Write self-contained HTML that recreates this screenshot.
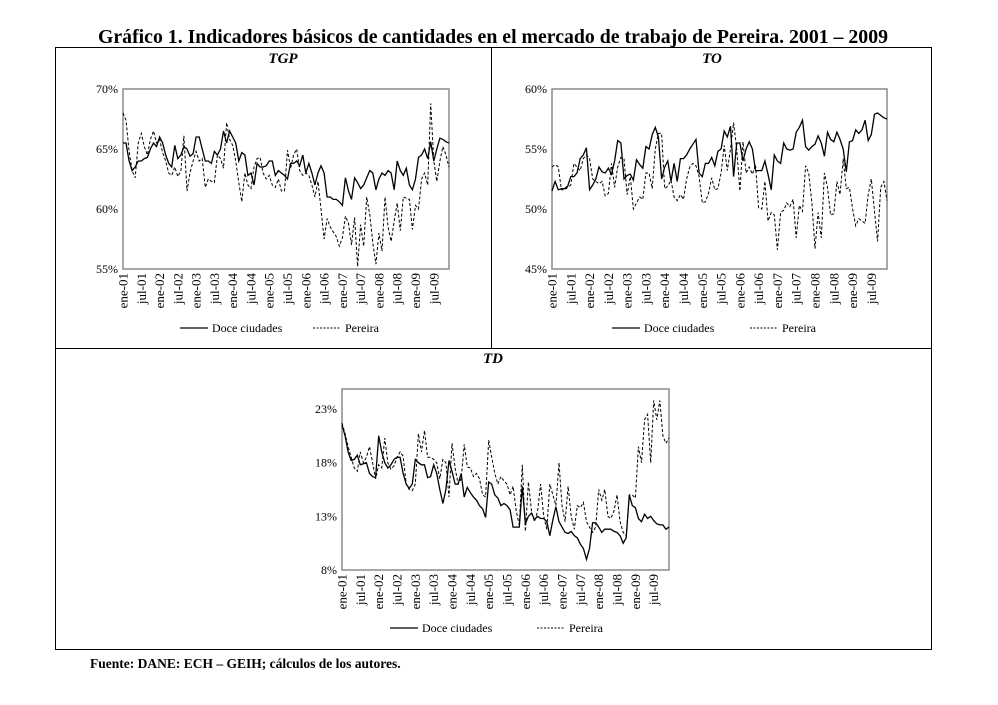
<!DOCTYPE html>
<html><head><meta charset="utf-8"><style>
body{margin:0;background:#fff;width:998px;height:700px;overflow:hidden;font-family:"Liberation Serif",serif}
svg text{font-family:"Liberation Serif",serif}
</style></head><body>
<svg id="fig" width="998" height="700">
<text x="493" y="43" text-anchor="middle" font-size="19.5" font-weight="bold" textLength="790" lengthAdjust="spacingAndGlyphs">Gráfico 1. Indicadores básicos de cantidades en el mercado de trabajo de Pereira. 2001 – 2009</text>
<rect x="55.5" y="47.5" width="876" height="602" fill="none" stroke="#000" stroke-width="1"/>
<line x1="491.5" y1="47" x2="491.5" y2="348" stroke="#000"/>
<line x1="55" y1="348.5" x2="932" y2="348.5" stroke="#000"/>
<text x="283" y="63" text-anchor="middle" font-size="15" font-weight="bold" font-style="italic">TGP</text>
<text x="712" y="63" text-anchor="middle" font-size="15" font-weight="bold" font-style="italic">TO</text>
<text x="493" y="363" text-anchor="middle" font-size="15" font-weight="bold" font-style="italic">TD</text>
<text x="90" y="668" font-size="13.5" font-weight="bold">Fuente: DANE: ECH – GEIH; cálculos de los autores.</text>
</svg>
<script>
const tickLabels=["ene-01","jul-01","ene-02","jul-02","ene-03","jul-03","ene-04","jul-04","ene-05","jul-05","ene-06","jul-06","ene-07","jul-07","ene-08","jul-08","ene-09","jul-09"];
const tgpDoce=[65.5,65.5,64,63.2,63.5,64,64,64.2,64.3,65,65.5,65.2,
66,65.5,64.5,63.8,63.5,65.3,64.2,64.5,65.2,65,64.4,64.6,
66,66,65,64,64,63.8,64.8,64.5,65,66.5,65.5,66.5,
66,65.5,64,64.7,64.5,62.8,63,62,63.8,63.5,63.5,63.6,
64,64,62.8,63.2,63,62.8,62.5,63.8,63.8,64,63.6,64.5,
63,63.8,63,62,63,63.6,63,61,61,60.8,60.8,60.6,
60.3,62.6,61.5,60.8,62.6,62.2,61.7,62,62.6,63.2,63,61.6,
62.5,63,62.8,63.2,63,61.6,64,63.2,62.8,63.4,62,61.6,
62.5,64.3,64.5,65,64.2,65.6,64,65,65.9,65.8,65.6,65.5];
const tgpPereira=[68,67.4,64.8,63.2,62.6,65.5,66.3,65.2,64.5,65.8,66.5,65.5,
65.8,64.7,64,63,62.8,63.5,62.7,63.2,66.1,61.5,63,64,
64.8,64,64.2,61.8,62.5,62.3,62.2,64.5,64.2,63.4,67.2,65.8,
65.3,64,62.2,60.6,63,62,61.7,63.5,64.2,64.3,63,62.5,
62.8,62,61.8,62.5,61.5,61.5,64.9,63.4,64.5,65,63.2,62.8,
63,62.8,62,61,62.3,60,57.5,59.2,58.5,58.1,57.7,56.9,
57.6,59.4,58.8,57,59.3,55.2,58.7,56.9,61,59.5,57.2,55.4,
58,56.5,61,58.5,57.3,59,60.5,58.2,61,60.9,60.8,58.3,
60.3,60,62.5,63,62,68.8,64,62.3,64,65.2,64.5,63.5];
const toDoce=[51.5,52.3,51.6,51.7,51.7,51.9,52.7,52.7,53,54.2,54.5,55.1,
51.6,52,52.5,53.5,53.1,53,53.4,52.9,54,55.7,55.5,52.5,
52.8,52.9,52.4,54.1,53.7,53.4,55.2,55,56.2,56.8,56,52.5,
53.5,54,52.3,53.8,52.3,54.2,54.2,54.5,55,55.4,55.8,53,
52.7,53.8,53.8,54.3,53.6,54.8,55,56.5,56,56.9,52.7,55.5,
55.5,54,55,55.6,55,53.2,53.2,53.2,54,52.9,51.6,54.5,
54,53.8,55.5,55,54.9,55,56.4,56.8,57.4,55.2,54.9,55.2,
55.4,56.1,55.5,54.4,56.4,55.8,55.6,56.4,55.8,55,53.1,55.6,
55.7,56.6,56.3,56.6,57.4,55.7,56.2,57.9,58,57.8,57.6,57.5];
const toPereira=[53.5,53.7,53.5,51.6,51.6,51.8,52,53.8,53.5,53.2,54.2,54.5,
54.2,52.5,52.3,52.1,52.3,51.1,51.3,53.8,51.8,53.5,54.3,54.2,
51.2,52.7,50,50.5,51,50.8,53,53,51.7,55,56.3,56.3,
51.7,51.9,52.4,51,50.7,51.2,50.8,52.5,53.5,53.8,53.6,52.7,
50.5,50.6,51.3,52.6,51.6,51.7,53,55.3,53.2,55,57.2,55,
51.5,55.6,53,53.5,52.9,53.7,50.1,50,52.3,49,49.7,49.5,
46.6,49.7,49.9,50.5,50.2,50.8,47.6,50.3,49.8,53.6,53,50.5,
46.7,49.7,47.6,53,51.8,49.5,49.6,52.3,51.2,54.2,51.7,51.8,
50,48.6,49.2,49,48.8,51.2,52.5,49.8,47.3,51.8,52.3,50.7];
const tdDoce=[21.5,20.5,19,18.2,18.3,18.7,17.8,17.9,18,17,16.7,16.6,
20.5,19,18,17.5,17.8,18.3,18.5,18.5,17,16,15.6,16,
18.3,18,17.8,17.8,16.6,16.7,17.8,17,15.5,14.2,15.5,18.2,
17.2,16,16,17,14.8,15.7,15.2,14.8,14.5,14,13.7,12.9,
16.2,16,15,14.7,14,14.2,14,13.6,12,12,12,15.8,
12.3,13,13.3,12.7,13,12.8,12.8,12.5,11.2,12.7,13.9,12.5,
12,11.5,11.4,11.6,11.2,11,10.4,10,9,10,12.4,12.4,
12,11.5,11.8,11.8,11.8,11.6,11.5,11.2,10.5,11,15,14,
13.8,12.8,12.5,13.2,12.8,13,12.6,12.3,12.2,12.2,11.8,12];
const tdPereira=[21.7,20.7,19.5,18.5,17.5,17.2,19,18,18.5,19.5,18,16.5,
17.8,17.5,20.3,18,17.4,17.7,18.5,19,18.6,16,15.5,15.4,
16,20.7,19,21,18.5,18.5,18.3,18,16.5,18.3,18,14.8,
19.8,17.5,16,16.5,19.7,17.6,17.5,16.7,17,16.5,15,14.8,
20.1,18.5,17,16,16.7,16.3,16,15,15.8,13.5,12.2,17.8,
11.6,16.2,13.5,12.5,13.5,16,13,11.8,16,15,14,18,
14,12.5,15.8,13,11.8,14,13.8,14.3,12.5,12,11.5,12,
15.5,14.5,15.5,13,12.8,13.5,15,12.5,11.5,11.2,15,15,
14.7,19.5,18,22,22.5,18,23.8,22,23.8,20.5,19.8,20.3];
const tgpTicks=[55,60,65,70];
const toTicks=[45,50,55,60];
const tdTicks=[8,13,18,23];

const NS="http://www.w3.org/2000/svg";
const fig=document.getElementById('fig');
function mk(tag,attrs,parent){const e=document.createElementNS(NS,tag);for(const k in attrs)e.setAttribute(k,attrs[k]);(parent||fig).appendChild(e);return e;}

function drawChart(id,L,T,R,B,ymin,ymax,ticks,s1,s2,legY,leg1X,leg2X,yTop){
  const g=mk('g',{});
  
  
  const n=108;
  const xs=i=>L+i*(R-L)/(n-1);
  const ys=v=>B-(v-ymin)/(ymax-ymin)*(B-T);
  const top=yTop!==undefined?yTop:T;
  const frame=mk('rect',{x:L,y:top,width:R-L,height:B-top,fill:'none',stroke:'#8a8a8a','stroke-width':1.5},g);
  
  
  ticks.forEach(t=>{
    const tx=mk('text',{x:L-5,y:ys(t)+4,'text-anchor':'end','font-size':12},g);
    
    
    tx.textContent=t+'%';
  });
  tickLabels.forEach((lab,k)=>{
    const x=xs(k*6);
    const tx=mk('text',{x:0,y:0,'text-anchor':'end','font-size':13,transform:'translate('+(x+4.5)+','+(B+4)+') rotate(-90)'},g);
    
    
    tx.textContent=lab;
  });
  const p1=mk('path',{d:s1.map((v,i)=>(i?'L':'M')+xs(i).toFixed(1)+' '+ys(v).toFixed(1)).join(' '),fill:'none',stroke:'#000','stroke-width':1.3},g);
  
  
  const p2=mk('path',{d:s2.map((v,i)=>(i?'L':'M')+xs(i).toFixed(1)+' '+ys(v).toFixed(1)).join(' '),fill:'none',stroke:'#000','stroke-width':1,'stroke-dasharray':'3,2'},g);
  
  
  const l1=mk('line',{x1:leg1X,y1:legY-4,x2:leg1X+28,y2:legY-4,stroke:'#000','stroke-width':1.3},g);
  
  
  const t1=mk('text',{x:leg1X+32,y:legY,'font-size':12},g);
  
  
  t1.textContent='Doce ciudades';
  const l2=mk('line',{x1:leg2X,y1:legY-4,x2:leg2X+28,y2:legY-4,stroke:'#000','stroke-width':1,'stroke-dasharray':'2,1.5'},g);
  
  
  const t2=mk('text',{x:leg2X+32,y:legY,'font-size':12},g);
  
  
  t2.textContent='Pereira';
}
drawChart('tgp',123,89,449,269,55,70,tgpTicks,tgpDoce,tgpPereira,332,180,313);
drawChart('to',552,89,887,269,45,60,toTicks,toDoce,toPereira,332,612,750);
drawChart('td',342,409,669,570,8,23,tdTicks,tdDoce,tdPereira,632,390,537,389);
</script>
</body></html>
